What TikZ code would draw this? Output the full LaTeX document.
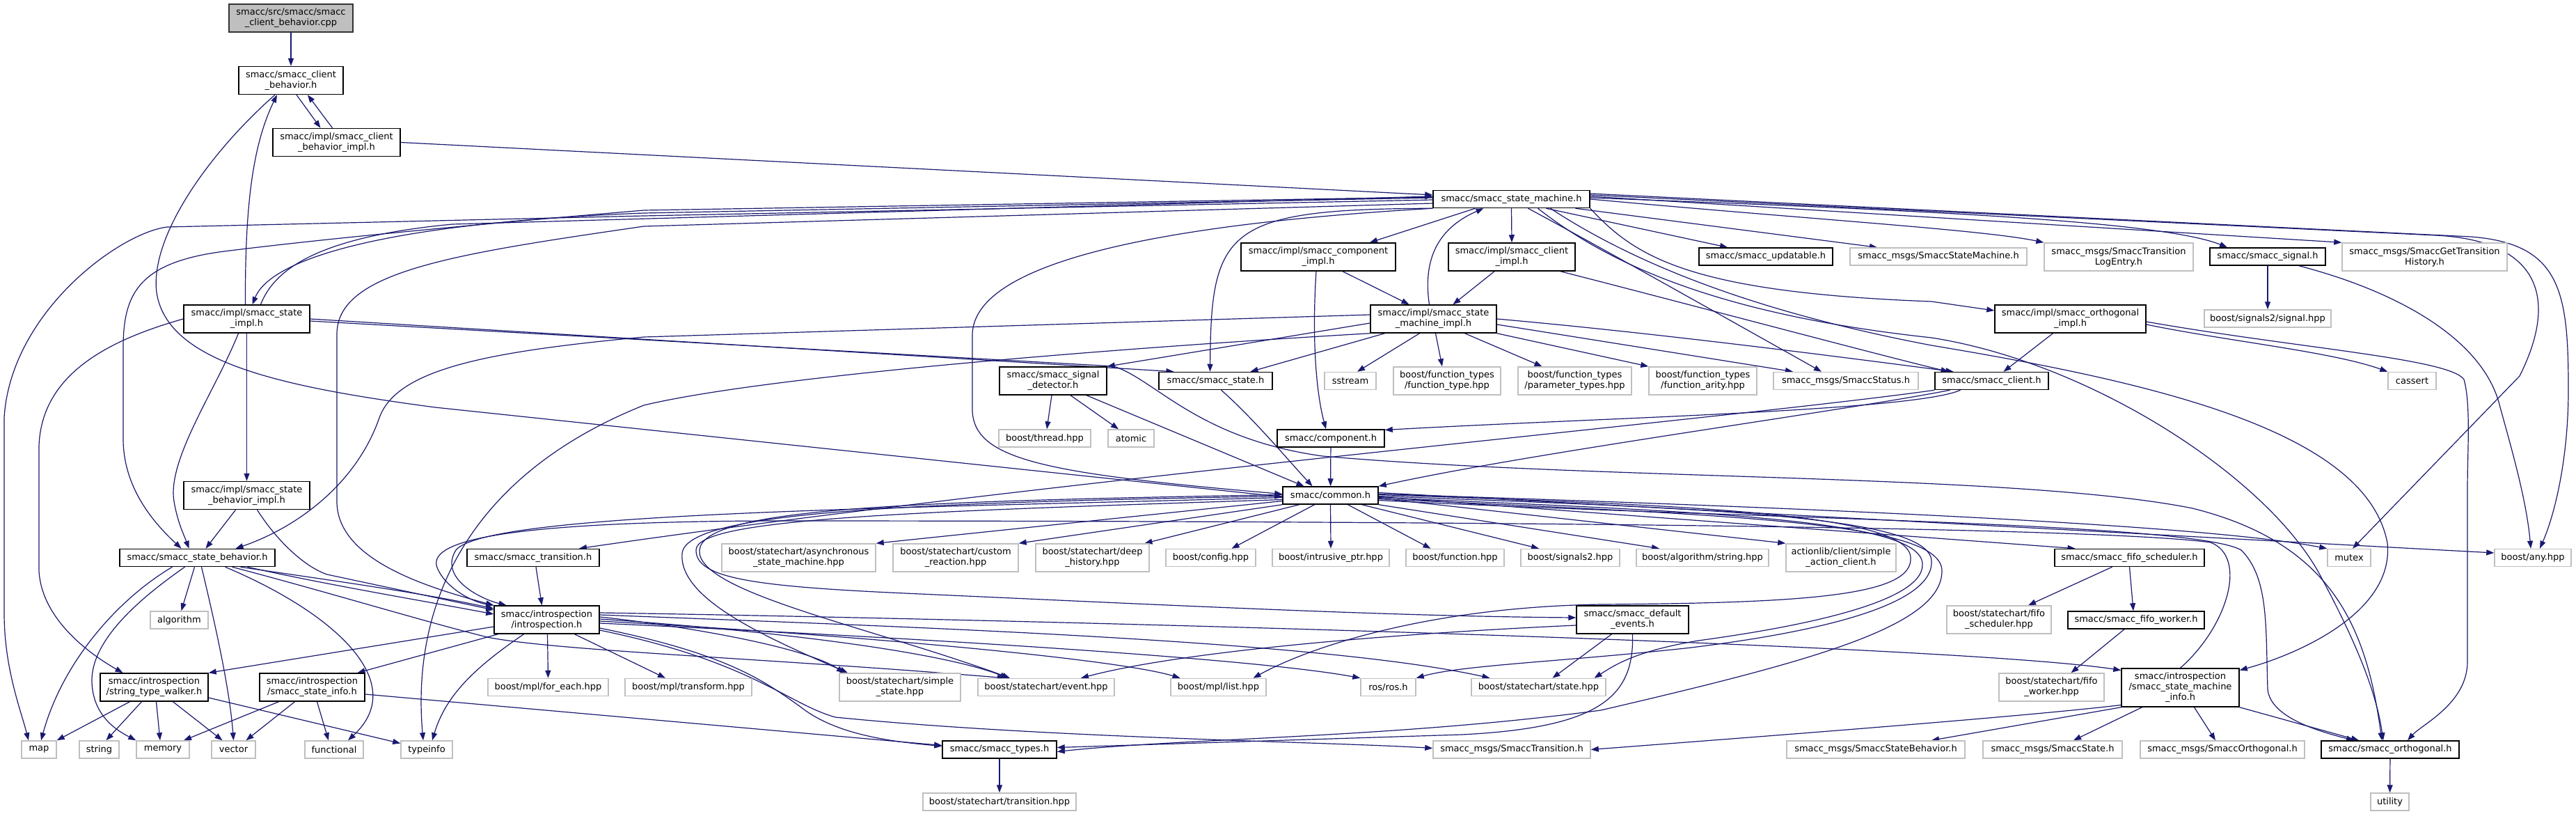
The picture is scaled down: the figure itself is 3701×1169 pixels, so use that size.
\documentclass[tikz,border=0pt]{standalone}
\usepackage{fontspec}
\setmainfont{DejaVu Sans}
\usepackage{xcolor}
\usetikzlibrary{arrows.meta,backgrounds}
\definecolor{EdgeBlue}{RGB}{25,25,112}
\definecolor{ExtGray}{RGB}{191,191,191}

\tikzset{
  filebox/.style={rectangle, fill=white, align=center, inner xsep=3pt, inner ysep=2pt,
    minimum height=25pt, font=\fontsize{13}{15}\selectfont, text=black},
  docbox/.style={filebox, draw=black, line width=1.5pt},
  extbox/.style={filebox, draw=ExtGray, line width=1.5pt},
  srcbox/.style={filebox, draw=black!80, fill=ExtGray, line width=1.5pt},
  twoline/.style={minimum height=40pt},
  threeline/.style={minimum height=55pt},
  incl/.style={draw=EdgeBlue, line width=1.2pt, -{Triangle[length=11pt,width=8pt]}}
}

\begin{document}
\begin{tikzpicture}[x=1pt, y=-1pt]
		\useasboundingbox (0,0) rectangle (3701,1169);
		
		% 上部节点
		\node[srcbox, twoline, minimum width=178pt] (cpp) at (418,26) {smacc/src/smacc/smacc\\\_client\_behavior.cpp};
		\node[docbox, twoline, minimum width=150pt] (cb) at (418,115.5) {smacc/smacc\_client\\\_behavior.h};
		\node[docbox, twoline, minimum width=183pt] (cbi) at (483.5,204.5) {smacc/impl/smacc\_client\\\_behavior\_impl.h};
		\node[docbox, minimum width=225pt] (sm) at (2171.5,286) {smacc/smacc\_state\_machine.h};
		\node[docbox, twoline, minimum width=181pt] (si) at (354.5,458) {smacc/impl/smacc\_state\\\_impl.h};
		
		% 第二行
		\node[docbox, twoline, minimum width=222pt] (ci) at (1894,369) {smacc/impl/smacc\_component\\\_impl.h};
		\node[docbox, twoline, minimum width=182pt] (cli) at (2172,369) {smacc/impl/smacc\_client\\\_impl.h};
		\node[docbox, minimum width=192pt] (upd) at (2537,368.5) {smacc/smacc\_updatable.h};
		\node[extbox, minimum width=254pt] (msgsm) at (2785,368.5) {smacc\_msgs/SmaccStateMachine.h};
		\node[extbox, twoline, minimum width=214pt] (tle) at (3044,369) {smacc\_msgs/SmaccTransition\\LogEntry.h};
		\node[docbox, minimum width=166pt] (sig) at (3258,368.5) {smacc/smacc\_signal.h};
		\node[extbox, twoline, minimum width=237pt] (gth) at (3483.5,369) {smacc\_msgs/SmaccGetTransition\\History.h};
		
		% 第三行
		\node[docbox, twoline, minimum width=181pt] (smi) at (2059.5,458) {smacc/impl/smacc\_state\\\_machine\_impl.h};
		\node[docbox, twoline, minimum width=217pt] (oi) at (2974.5,458) {smacc/impl/smacc\_orthogonal\\\_impl.h};
		\node[extbox, minimum width=182pt] (s2sig) at (3258,457.5) {boost/signals2/signal.hpp};
		
		% 第四行
		\node[docbox, twoline, minimum width=154pt] (sd) at (1513,547) {smacc/smacc\_signal\\\_detector.h};
		\node[docbox, minimum width=163pt] (st) at (1746.5,547) {smacc/smacc\_state.h};
		\node[extbox, minimum width=74pt] (sstream) at (1940,547) {sstream};
		\node[extbox, twoline, minimum width=154pt] (ft) at (2079,547) {boost/function\_types\\/function\_type.hpp};
		\node[extbox, twoline, minimum width=163pt] (pt) at (2262.5,547) {boost/function\_types\\/parameter\_types.hpp};
		\node[extbox, twoline, minimum width=155pt] (fa) at (2446.5,547) {boost/function\_types\\/function\_arity.hpp};
		\node[extbox, minimum width=208pt] (status) at (2652,547) {smacc\_msgs/SmaccStatus.h};
		\node[docbox, minimum width=163pt] (cl) at (2861.5,547) {smacc/smacc\_client.h};
		\node[extbox, minimum width=69pt] (cassert) at (3465.5,547) {cassert};
		
		% 中部
		\node[extbox, minimum width=132pt] (thread) at (1501,629.5) {boost/thread.hpp};
		\node[extbox, minimum width=66pt] (atomic) at (1625,629.5) {atomic};
		\node[docbox, minimum width=154pt] (comp) at (1912,629.5) {smacc/component.h};
		\node[docbox, twoline, minimum width=181pt] (sbi) at (354.5,711.5) {smacc/impl/smacc\_state\\\_behavior\_impl.h};
		\node[docbox, minimum width=137pt] (common) at (1911.5,711.5) {smacc/common.h};
		
		% common.h 下一行
		\node[docbox, minimum width=223pt] (sb) at (283.5,801) {smacc/smacc\_state\_behavior.h};
		\node[docbox, minimum width=190pt] (tr) at (766,801) {smacc/smacc\_transition.h};
		\node[extbox, twoline, minimum width=221pt] (async) at (1147.5,801) {boost/statechart/asynchronous\\\_state\_machine.hpp};
		\node[extbox, twoline, minimum width=180pt] (custom) at (1373,801) {boost/statechart/custom\\\_reaction.hpp};
		\node[extbox, twoline, minimum width=163pt] (deep) at (1569.5,801) {boost/statechart/deep\\\_history.hpp};
		\node[extbox, minimum width=129pt] (config) at (1739.5,801) {boost/config.hpp};
		\node[extbox, minimum width=168pt] (intrusive) at (1912,801) {boost/intrusive\_ptr.hpp};
		\node[extbox, minimum width=141pt] (function) at (2090.5,801) {boost/function.hpp};
		\node[extbox, minimum width=142pt] (signals2) at (2256,801) {boost/signals2.hpp};
		\node[extbox, minimum width=190pt] (algstr) at (2446,801) {boost/algorithm/string.hpp};
		\node[extbox, twoline, minimum width=158pt] (actionlib) at (2645,801) {actionlib/client/simple\\\_action\_client.h};
		\node[docbox, minimum width=215pt] (fifos) at (3059.5,801) {smacc/smacc\_fifo\_scheduler.h};
		\node[extbox, minimum width=62pt] (mutex) at (3375,801) {mutex};
		\node[extbox, minimum width=110pt] (any) at (3639,801) {boost/any.hpp};
		
		% 下部
		\node[extbox, minimum width=83pt] (algo) at (257.5,890.5) {algorithm};
		\node[docbox, twoline, minimum width=151pt] (intro) at (785.5,890) {smacc/introspection\\/introspection.h};
		\node[docbox, twoline, minimum width=161pt] (de) at (2345.5,890) {smacc/smacc\_default\\\_events.h};
		\node[extbox, twoline, minimum width=150pt] (fsh) at (2872,890) {boost/statechart/fifo\\\_scheduler.hpp};
		\node[docbox, minimum width=196pt] (fw) at (3069,890.5) {smacc/smacc\_fifo\_worker.h};
		
		\node[docbox, twoline, minimum width=155pt] (stw) at (221.5,987) {smacc/introspection\\/string\_type\_walker.h};
		\node[docbox, twoline, minimum width=151pt] (ssi) at (448.5,987) {smacc/introspection\\/smacc\_state\_info.h};
		\node[extbox, minimum width=173pt] (foreach) at (787.5,987) {boost/mpl/for\_each.hpp};
		\node[extbox, minimum width=182pt] (transform) at (989,987) {boost/mpl/transform.hpp};
		\node[extbox, twoline, minimum width=174pt] (simple) at (1293,987) {boost/statechart/simple\\\_state.hpp};
		\node[extbox, minimum width=196pt] (event) at (1503,987) {boost/statechart/event.hpp};
		\node[extbox, minimum width=137pt] (list) at (1750.5,987) {boost/mpl/list.hpp};
		\node[extbox, minimum width=79pt] (rosh) at (1994.5,987) {ros/ros.h};
		\node[extbox, minimum width=193pt] (state) at (2210.5,987) {boost/statechart/state.hpp};
		\node[extbox, twoline, minimum width=151pt] (fwh) at (2947.5,987) {boost/statechart/fifo\\\_worker.hpp};
		\node[docbox, threeline, minimum width=169pt] (smii) at (3132.5,987.5) {smacc/introspection\\/smacc\_state\_machine\\\_info.h};
		
		% 底行
		\node[extbox, minimum width=50pt] (map) at (56,1076.5) {map};
		\node[extbox, minimum width=57pt] (string) at (142.5,1076.5) {string};
		\node[extbox, minimum width=76pt] (memory) at (234,1076.5) {memory};
		\node[extbox, minimum width=63pt] (vector) at (335.5,1076.5) {vector};
		\node[extbox, minimum width=84pt] (functional) at (480,1076.5) {functional};
		\node[extbox, minimum width=74pt] (typeinfo) at (613,1076.5) {typeinfo};
		\node[docbox, minimum width=164pt] (types) at (1436,1076.5) {smacc/smacc\_types.h};
		\node[extbox, minimum width=226pt] (trans) at (2172,1076.5) {smacc\_msgs/SmaccTransition.h};
		\node[extbox, minimum width=256pt] (ssb) at (2695,1076.5) {smacc\_msgs/SmaccStateBehavior.h};
		\node[extbox, minimum width=200pt] (sstate) at (2949,1076.5) {smacc\_msgs/SmaccState.h};
		\node[extbox, minimum width=236pt] (sorth) at (3193,1076.5) {smacc\_msgs/SmaccOrthogonal.h};
		\node[docbox, minimum width=198pt] (orth) at (3434,1076.5) {smacc/smacc\_orthogonal.h};
		\node[extbox, minimum width=220pt] (transition) at (1436,1151.5) {boost/statechart/transition.hpp};
		\node[extbox, minimum width=55pt] (utility) at (3433.5,1151.5) {utility};
		
		\begin{scope}[on background layer]
		\fill[white] (0,0) rectangle (3701,1169);
		
		% client_behavior
		\draw[incl] (cpp) -- (cb);
		\draw[incl] ([xshift=8pt]cb.south) -- ([xshift=-23pt]cbi.north);
		\draw[incl] ([xshift=-6pt]cbi.north) -- ([xshift=24pt]cb.south);
		\draw[incl] (cbi.east) -- ([yshift=6pt]sm.west);
		\draw[incl] ([xshift=-23pt]cb.south) .. controls (300,220) and (215,340) .. (225,420) .. controls (240,520) and (400,555) .. (625,585) -- ([yshift=-2pt]common.west);
		
		% state_impl
		\draw[incl] ([xshift=-2pt]si.north) .. controls (352,300) and (362,210) .. ([xshift=-20pt]cb.south);
		\draw[incl] ([yshift=2pt]sm.west) -- (925,306) .. controls (560,320) and (390,370) .. ([xshift=8pt]si.north);
		\draw[incl] ([xshift=20pt]si.north) .. controls (395,385) and (460,340) .. (650,322) -- ([yshift=4pt]sm.west);
		\draw[incl] (si) -- (sbi);
		\draw[incl] ([xshift=-12pt]si.south) .. controls (310,560) and (240,660) .. (250,720) .. controls (255,750) and (265,770) .. ([xshift=-12pt]sb.north);
		\draw[incl] (si.west) .. controls (150,490) and (60,540) .. (56,640) -- (56,820) .. controls (60,890) and (130,940) .. ([xshift=-45pt]stw.north);
		\draw[incl] (si.east) -- ([xshift=-60pt]st.north);
		\draw[incl] ([yshift=-3pt]si.east) -- (1600,526) .. controls (1660,545) and (1720,630) .. (1900,655) .. controls (2300,690) and (2900,680) .. (3150,730) .. controls (3350,780) and (3400,900) .. ([xshift=-12pt]orth.north);
		
		% state_machine
		\draw[incl] ([yshift=-1pt]sm.west) -- (925,310) -- (240,326) .. controls (170,335) and (15,450) .. (6,600) -- (6,880) .. controls (6,960) and (30,1020) .. ([xshift=-15pt]map.north);
		\draw[incl] ([yshift=3pt]sm.west) -- (925,302) .. controls (650,325) and (450,345) .. (330,360) .. controls (200,375) and (177,420) .. (177,500) -- (177,630) .. controls (177,700) and (220,750) .. ([xshift=-23pt]sb.north);
		\draw[incl] ([yshift=-6pt]sm.west) -- (925,325) .. controls (650,365) and (484,390) .. (484,480) -- (484,720) .. controls (484,800) and (600,840) .. (intro.north west);
		\draw[incl] (sm.south west) .. controls (1700,320) and (1400,370) .. (1397,480) -- (1397,590) .. controls (1400,660) and (1500,680) .. ([yshift=2pt]common.west);
		\draw[incl] (sm.south west) .. controls (1760,300) and (1740,330) .. ([xshift=-8pt]st.north);
		\draw[incl] ([xshift=-52pt]sm.south) -- ([xshift=74pt]ci.north);
		\draw[incl] (sm.south) -- (cli.north);
		\draw[incl] ([xshift=-6pt]smi.north) .. controls (2045,380) and (2060,330) .. ([xshift=-40pt]sm.south);
		\draw[incl] ([xshift=24pt]sm.south) .. controls (2290,350) and (2450,440) .. ([xshift=-35pt]status.north);
		\draw[incl] ([xshift=50pt]sm.south) -- ([xshift=-55pt]upd.north);
		\draw[incl] ([xshift=92pt]sm.south) -- ([xshift=-88pt]msgsm.north);
		\draw[incl] (sm.east) .. controls (2600,315) and (2850,330) .. (tle.north west);
		\draw[incl] ([yshift=2pt]sm.east) .. controls (2700,300) and (3100,315) .. ([xshift=-58pt]sig.north);
		\draw[incl] ([yshift=4pt]sm.east) -- (gth.north west);
		\draw[incl] ([yshift=6pt]sm.east) -- (3500,338) .. controls (3640,345) and (3680,420) .. (3620,540) -- ([xshift=5pt]mutex.north);
		\draw[incl] ([yshift=8pt]sm.east) -- (3550,340) .. controls (3680,350) and (3690,420) .. (3690,560) .. controls (3690,660) and (3670,740) .. ([xshift=10pt]any.north);
		\draw[incl] (sm.south east) .. controls (2350,370) and (2430,420) .. (2775,433) -- ([yshift=12pt]oi.west);
		\draw[incl] ([xshift=38pt]sm.south) .. controls (2300,370) and (2450,450) .. (2775,485) .. controls (3000,520) and (3250,680) .. (3330,820) .. controls (3390,930) and (3415,1000) .. ([xshift=-10pt]orth.north);
		\draw[incl] ([xshift=56pt]sm.south) .. controls (2320,360) and (2480,440) .. (2775,496) .. controls (3100,550) and (3400,620) .. (3430,780) .. controls (3440,880) and (3300,940) .. ([yshift=25pt]smii.east);
		
		% signal
		\draw[incl] ([xshift=45pt]sig.south) .. controls (3450,420) and (3570,490) .. (3592,585) .. controls (3610,650) and (3630,720) .. ([xshift=-3pt]any.north);
		\draw[incl] (sig) -- (s2sig);
		
		% impl 文件
		\draw[incl] ([xshift=35pt]ci.south) -- ([xshift=-35pt]smi.north);
		\draw[incl] ([xshift=-3pt]ci.south) .. controls (1885,480) and (1890,560) .. ([xshift=-7pt]comp.north);
		\draw[incl] ([xshift=-25pt]cli.south) -- ([xshift=28pt]smi.north);
		\draw[incl] ([xshift=70pt]cli.south) .. controls (2400,430) and (2700,510) .. ([xshift=-62pt]cl.north);
		\draw[incl] (smi.east) .. controls (2400,480) and (2700,520) .. ([xshift=-55pt]cl.north);
		\draw[incl] ([xshift=-20pt]smi.south) -- ([xshift=10pt]sstream.north);
		\draw[incl] ([xshift=3pt]smi.south) -- ([xshift=-7pt]ft.north);
		\draw[incl] ([xshift=45pt]smi.south) -- ([xshift=-47pt]pt.north);
		\draw[incl] (smi.south east) -- (fa.north west);
		\draw[incl] ([yshift=-8pt]smi.east) -- ([xshift=-76pt]status.north);
		\draw[incl] ([xshift=-70pt]smi.south) -- ([xshift=50pt]st.north);
		\draw[incl] ([yshift=-6pt]smi.west) -- (sd.north east);
		\draw[incl] ([yshift=6pt]smi.west) -- (925,484) .. controls (700,505) and (570,530) .. (545,600) .. controls (510,700) and (420,760) .. ([xshift=55pt]sb.north);
		\draw[incl] (smi.south west) .. controls (1600,500) and (1100,540) .. (925,582) .. controls (680,680) and (590,860) .. ([xshift=-5pt]typeinfo.north);
		\draw[incl] ([xshift=-25pt]oi.south) -- ([xshift=17pt]cl.north);
		\draw[incl] ([yshift=-8pt]oi.east) .. controls (3200,490) and (3350,505) .. (cassert.north west);
		\draw[incl] ([yshift=-4pt]oi.east) .. controls (3300,500) and (3520,515) .. (3540,545) .. controls (3550,580) and (3545,650) .. (3545,700) -- (3545,950) .. controls (3545,1010) and (3480,1040) .. ([xshift=25pt]orth.north);
		
		% common.h 的上游
		\draw[incl] ([xshift=-2pt]sd.south) -- ([xshift=3pt]thread.north);
		\draw[incl] ([xshift=25pt]sd.south) -- ([xshift=-18pt]atomic.north);
		\draw[incl] ([xshift=48pt]sd.south) -- ([xshift=-38pt]common.north);
		\draw[incl] ([xshift=8pt]st.south) .. controls (1800,600) and (1850,660) .. ([xshift=-26pt]common.north);
		\draw[incl] (comp) -- (common);
		\draw[incl] ([xshift=-45pt]cl.south) .. controls (2750,590) and (2300,600) .. ([yshift=12pt]comp.east);
		\draw[incl] ([xshift=-60pt]cl.south) .. controls (2650,590) and (2200,650) .. (common.north east);
		\draw[incl] (cl.south west) .. controls (2500,600) and (1500,690) .. ([xshift=66pt]tr.north);
		
		% common.h 的下游
		\draw[incl] ([yshift=-8pt]common.west) -- (async.north east);
		\draw[incl] (common.south west) -- (custom.north east);
		\draw[incl] ([xshift=-45pt]common.south) -- ([xshift=75pt]deep.north);
		\draw[incl] ([xshift=-23pt]common.south) -- ([xshift=30pt]config.north);
		\draw[incl] (common.south) -- (intrusive.north);
		\draw[incl] ([xshift=25pt]common.south) -- ([xshift=-35pt]function.north);
		\draw[incl] ([xshift=45pt]common.south) -- ([xshift=-45pt]signals2.north);
		\draw[incl] (common.south east) -- ([xshift=-62pt]algstr.north);
		\draw[incl] ([yshift=-4pt]common.east) -- (actionlib.north west);
		\draw[incl] ([yshift=-2pt]common.east) -- ([xshift=-78pt]fifos.north);
		\draw[incl] ([yshift=2pt]common.east) .. controls (2800,735) and (3200,760) .. (mutex.north west);
		\draw[incl] ([yshift=4pt]common.east) -- ([yshift=7pt]any.west);
		\draw[incl] ([yshift=-3pt]common.west) .. controls (1300,730) and (700,735) .. (655,790) .. controls (630,830) and (690,860) .. ([xshift=-58pt]intro.north);
		\draw[incl] ([yshift=-6pt]common.west) .. controls (1300,735) and (1000,745) .. (1000,790) .. controls (1000,830) and (1080,842) .. (1300,852) .. controls (1700,870) and (2000,885) .. ([yshift=3pt]de.west);
		\draw[incl] ([yshift=-1pt]common.west) .. controls (1300,722) and (985,735) .. (980,795) .. controls (975,860) and (1100,915) .. ([xshift=-75pt]simple.north);
		\draw[incl] ([yshift=1pt]common.west) .. controls (1300,720) and (1010,730) .. (1005,790) .. controls (1000,850) and (1250,900) .. ([xshift=-52pt]event.north);
		\draw[incl] ([yshift=1pt]common.east) .. controls (2400,725) and (2740,735) .. (2745,800) .. controls (2750,855) and (2600,866) .. (2300,868) .. controls (2050,872) and (1880,930) .. ([xshift=50pt]list.north);
		\draw[incl] ([yshift=-1pt]common.east) .. controls (2450,730) and (2770,740) .. (2775,805) .. controls (2780,880) and (2550,915) .. (2430,930) .. controls (2250,950) and (2100,955) .. (rosh.north east);
		\draw[incl] ([yshift=-3pt]common.east) .. controls (2450,735) and (2760,745) .. (2762,810) .. controls (2765,870) and (2550,905) .. (2440,920) .. controls (2350,935) and (2320,955) .. ([xshift=80pt]state.north);
		\draw[incl] ([yshift=-5pt]common.east) .. controls (2500,740) and (2790,750) .. (2790,820) .. controls (2790,900) and (2600,950) .. (2300,1020) .. controls (2000,1060) and (1700,1060) .. ([yshift=-3pt]types.east);
		\draw[incl] ([yshift=-7pt]common.east) .. controls (2500,745) and (3150,750) .. (3220,790) .. controls (3260,830) and (3255,900) .. (3258,990) .. controls (3262,1030) and (3330,1050) .. ([xshift=-52pt]orth.north);
		
		% state_behavior
		\draw[incl] ([xshift=-16pt]sbi.south) -- ([xshift=12pt]sb.north);
		\draw[incl] ([xshift=15pt]sbi.south) .. controls (400,780) and (440,815) .. (470,825) -- ([yshift=14pt]intro.west);
		\draw[incl] ([xshift=62pt]sb.south) .. controls (450,830) and (600,850) .. ([yshift=16pt]intro.west);
		\draw[incl] ([xshift=72pt]sb.south) .. controls (470,840) and (620,865) .. ([yshift=8pt]intro.west);
		\draw[incl] ([xshift=-4pt]sb.south) -- ([xshift=3pt]algo.north);
		\draw[incl] ([xshift=-36pt]sb.south) .. controls (170,860) and (90,950) .. ([xshift=3pt]map.north);
		\draw[incl] ([xshift=-18pt]sb.south) .. controls (200,860) and (130,920) .. (132,980) .. controls (134,1030) and (170,1050) .. (memory.north west);
		\draw[incl] ([xshift=6pt]sb.south) .. controls (310,900) and (330,990) .. (vector.north);
		\draw[incl] ([xshift=40pt]sb.south) .. controls (480,880) and (590,980) .. ([xshift=20pt]functional.north);
		\draw[incl] ([xshift=50pt]sb.south) .. controls (470,850) and (600,890) .. (700,915) .. controls (800,935) and (1100,945) .. ([xshift=-59pt]event.north);
		
		% introspection
		\draw[incl] ([xshift=4pt]tr.south) -- ([xshift=-7pt]intro.north);
		\draw[incl] ([yshift=-10pt]intro.west) -- (stw.north east);
		\draw[incl] ([xshift=-70pt]intro.south) -- ([xshift=65pt]ssi.north);
		\draw[incl] ([xshift=-33pt]intro.south) .. controls (680,960) and (640,1000) .. ([xshift=8pt]typeinfo.north);
		\draw[incl] ([xshift=1pt]intro.south) -- (foreach.north);
		\draw[incl] ([xshift=40pt]intro.south) -- ([xshift=-33pt]transform.north);
		\draw[incl] ([yshift=4pt]intro.east) .. controls (950,895) and (1150,925) .. ([xshift=-80pt]simple.north);
		\draw[incl] ([yshift=1pt]intro.east) .. controls (1100,905) and (1350,935) .. ([xshift=-55pt]event.north);
		\draw[incl] ([yshift=-2pt]intro.east) .. controls (1200,910) and (1600,945) .. ([xshift=-55pt]list.north);
		\draw[incl] ([yshift=-5pt]intro.east) .. controls (1300,915) and (1800,945) .. (rosh.north west);
		\draw[incl] ([yshift=7pt]intro.east) .. controls (1300,900) and (1900,920) .. ([xshift=-70pt]state.north);
		\draw[incl] ([yshift=10pt]intro.east) .. controls (1500,890) and (2800,925) .. ([yshift=25pt]smii.west);
		\draw[incl] ([yshift=-12pt]intro.east) .. controls (1050,940) and (1100,980) .. (1150,1015) .. controls (1200,1055) and (1280,1065) .. ([yshift=5pt]types.west);
		\draw[incl] ([yshift=-15pt]intro.east) .. controls (1080,950) and (1130,1010) .. (1200,1030) .. controls (1500,1060) and (1900,1065) .. ([yshift=2pt]trans.west);
		\draw[incl] (smii.north) .. controls (3200,900) and (3230,800) .. (3176,779) .. controls (3000,755) and (2000,748) .. (1100,748) .. controls (700,750) and (615,780) .. (628,815) .. controls (640,845) and (680,865) .. (intro.north west);
		
		% string_type_walker / smacc_state_info
		\draw[incl] ([xshift=-35pt]stw.south) -- (map.north east);
		\draw[incl] ([xshift=-18pt]stw.south) -- ([xshift=10pt]string.north);
		\draw[incl] ([xshift=3pt]stw.south) -- ([xshift=-4pt]memory.north);
		\draw[incl] ([xshift=27pt]stw.south) -- ([xshift=-16pt]vector.north);
		\draw[incl] ([yshift=-15pt]stw.east) -- ([yshift=9pt]typeinfo.west);
		\draw[incl] ([xshift=-48pt]ssi.south) -- ([xshift=30pt]memory.north);
		\draw[incl] ([xshift=-25pt]ssi.south) -- ([xshift=18pt]vector.north);
		\draw[incl] ([xshift=7pt]ssi.south) -- ([xshift=-8pt]functional.north);
		\draw[incl] ([yshift=-10pt]ssi.east) -- ([yshift=6pt]types.west);
		
		% default_events
		\draw[incl] (de.south) .. controls (2348,1000) and (2300,1045) .. (2100,1055) -- ([yshift=3pt]types.east);
		\draw[incl] ([xshift=-30pt]de.south) -- ([xshift=20pt]state.north);
		\draw[incl] ([yshift=-8pt]de.west) .. controls (2000,910) and (1700,935) .. ([xshift=50pt]event.north);
		
		% state_machine_info
		\draw[incl] ([yshift=-25pt]smii.west) .. controls (2900,1030) and (2500,1060) .. (trans.east);
		\draw[incl] (smii.south west) -- ([xshift=80pt]ssb.north);
		\draw[incl] ([xshift=-55pt]smii.south) -- ([xshift=30pt]sstate.north);
		\draw[incl] ([xshift=20pt]smii.south) -- ([xshift=-10pt]sorth.north);
		\draw[incl] (smii.south east) -- ([xshift=-45pt]orth.north);
		
		% fifo 与其余
		\draw[incl] ([xshift=-25pt]fifos.south) -- ([xshift=42pt]fsh.north);
		\draw[incl] (fifos.south) -- ([xshift=-4pt]fw.north);
		\draw[incl] ([xshift=-17pt]fw.south) -- ([xshift=28pt]fwh.north);
		\draw[incl] (types) -- (transition);
		\draw[incl] (orth) -- (utility);
		\end{scope}
	\end{tikzpicture}
\end{document}
